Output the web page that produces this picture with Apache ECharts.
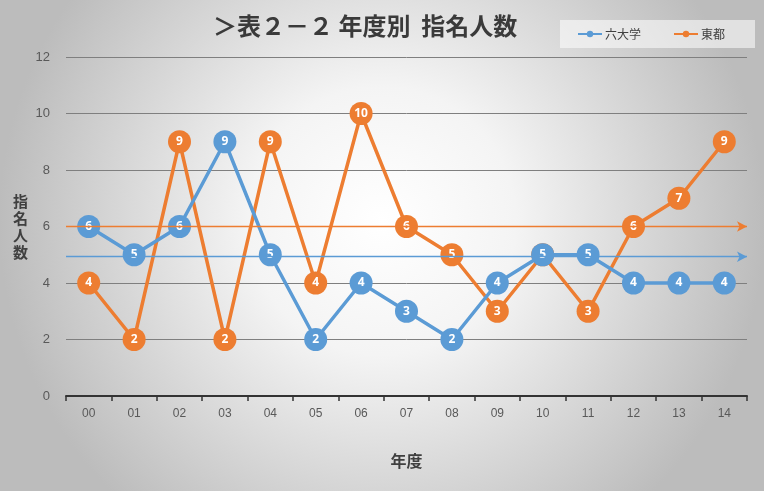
<!DOCTYPE html>
<html><head><meta charset="utf-8">
<script src="https://cdn.jsdelivr.net/npm/echarts@6/dist/echarts.min.js"></script>
<style>html,body{margin:0;padding:0;}#c{width:764px;height:491px;}</style>
</head><body><div id="c"></div>
<script>
const categories = ['00','01','02','03','04','05','06','07','08','09','10','11','12','13','14'];
const rokudaigaku = [6,5,6,9,5,2,4,3,2,4,5,5,4,4,4];
const toto = [4,2,9,2,9,4,10,6,5,3,5,3,6,7,9];
const rokudaigakuArrow = 4.93;
const totoArrow = 6;
const yTicks = {min:0, max:12, interval:2};

const blue = '#5B9BD5', orange = '#ED7D31';
const chart = echarts.init(document.getElementById('c'));
function series(name, data, color, arrowVal, z){
  return {
    name, type:'line', data, z,
    symbol:'circle', symbolSize:23,
    lineStyle:{color, width:3.5},
    itemStyle:{color},
    label:{show:true, position:'inside', color:'#fff', fontWeight:'bold', fontSize:12, fontFamily:'Noto Sans'},
    markLine:{
      silent:true, symbol:['none','arrow'], symbolSize:[8,10],
      lineStyle:{color, width:1.3, type:'solid'},
      label:{show:false},
      data:[{yAxis:arrowVal}]
    }
  };
}
chart.setOption({
  backgroundColor:{type:'radial', x:0.5, y:0.45, r:0.78, colorStops:[{offset:0,color:'#ffffff'},{offset:0.35,color:'#f4f4f4'},{offset:1,color:'#bcbcbc'}]},
  title:{text:'＞表２－２ 年度別  指名人数', left:205, top:10, padding:[4,8,4,8],
    textStyle:{fontSize:24, fontWeight:'bold', color:'#3a3a3a', fontFamily:'Noto Sans CJK JP'}},
  legend:{left:560, top:20, itemWidth:24, itemHeight:8, itemGap:32, padding:[8,30,8,17],
    backgroundColor:'rgba(255,255,255,0.55)',
    textStyle:{fontSize:12, color:'#404040', fontFamily:'Noto Sans CJK JP', padding:[0,0,0,-2]},
    data:['六大学','東都']},
  grid:{left:66, right:17, top:57, bottom:95},
  xAxis:{type:'category', data:categories, boundaryGap:true,
    axisLine:{lineStyle:{color:'#333', width:2}},
    axisTick:{show:true, alignWithLabel:false, length:5, lineStyle:{color:'#333',width:1.5}},
    axisLabel:{color:'#595959', fontSize:12, margin:12, fontFamily:'Liberation Sans Narrow, Liberation Sans'},
    name:'年度', nameLocation:'middle', nameGap:57,
    nameTextStyle:{fontSize:16, fontWeight:'bold', color:'#404040', fontFamily:'Noto Sans CJK JP'}},
  yAxis:{type:'value', min:yTicks.min, max:yTicks.max, interval:yTicks.interval,
    axisLine:{show:false}, axisTick:{show:false},
    splitLine:{lineStyle:{color:'#7f7f7f', width:1}},
    axisLabel:{color:'#595959', fontSize:13, margin:16, fontFamily:'Liberation Sans'},
    name:'指\n名\n人\n数', nameLocation:'middle', nameGap:38, nameRotate:0,
    nameTextStyle:{fontSize:15, fontWeight:'bold', color:'#404040', lineHeight:17, fontFamily:'Noto Sans CJK JP'}},
  series:[
    series('六大学', rokudaigaku, blue, rokudaigakuArrow, 3),
    series('東都', toto, orange, totoArrow, 2)
  ]
});
</script></body></html>
